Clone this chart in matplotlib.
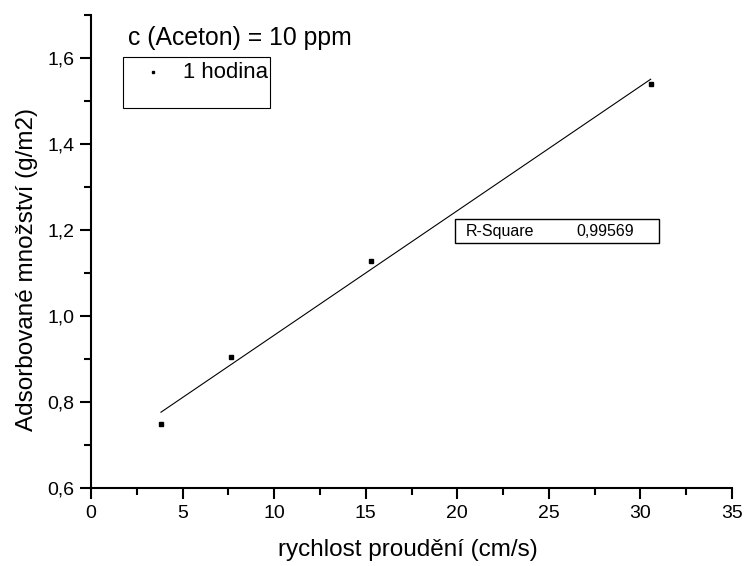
import numpy as np
import matplotlib
matplotlib.use("Agg")
import matplotlib.pyplot as plt
from matplotlib.patches import Rectangle
from matplotlib.ticker import MultipleLocator, FuncFormatter

plt.rcParams['font.family'] = ['Liberation Sans', 'DejaVu Sans']

# data
rychlost = [3.82, 7.64, 15.28, 30.56]
mnozstvi = [0.75, 0.905, 1.127, 1.54]
r_square = "0,99569"
legend_label = "1 hodina"
title_text = "c (Aceton) = 10 ppm"

fig = plt.figure(figsize=(7.44, 5.66), dpi=100)
ax = fig.add_axes([0.1223, 0.1378, 0.8616, 0.8357])

# linear fit over the measured range
k, q = np.polyfit(rychlost, mnozstvi, 1)
xfit = np.array([min(rychlost), max(rychlost)])
ax.plot(xfit, k * xfit + q, color='black', lw=0.8)
ax.plot(rychlost, mnozstvi, ls='none', marker='s', ms=2.2, color='black')

ax.set_xlim(0, 35)
ax.set_ylim(0.6, 1.7)
ax.xaxis.set_major_locator(MultipleLocator(5))
ax.xaxis.set_minor_locator(MultipleLocator(2.5))
ax.yaxis.set_major_locator(MultipleLocator(0.2))
ax.yaxis.set_minor_locator(MultipleLocator(0.1))
ax.yaxis.set_major_formatter(FuncFormatter(lambda v, p: f"{v:.1f}".replace('.', ',')))
ax.xaxis.set_major_formatter(FuncFormatter(lambda v, p: f"{v:.0f}"))

for s in ['top', 'right']:
  ax.spines[s].set_visible(False)
for s in ['left', 'bottom']:
  ax.spines[s].set_linewidth(1.5)
ax.tick_params(which='major', direction='out', length=8, width=1.5, labelsize=14, pad=4)
ax.tick_params(which='minor', direction='out', length=5, width=1.5)

ax.set_xlabel("rychlost proudění (cm/s)", fontsize=17.5, va='center')
ax.set_ylabel("Adsorbované množství (g/m2)", fontsize=17.5, va='center')
ax.xaxis.set_label_coords(0.495, -0.132)
ax.yaxis.set_label_coords(-0.1, 0.461)

# title inside the plot, Origin style
ax.text(0.0577, 0.951, title_text, transform=ax.transAxes, fontsize=17.8,
        va='center', ha='left')

# legend box
ax.add_patch(Rectangle((0.0499, 0.803), 0.2294, 0.108, transform=ax.transAxes,
                       fill=False, lw=0.8, ec='black'))
ax.plot([0.0967], [0.879], transform=ax.transAxes, marker='s', ms=2,
        color='black', ls='none')
ax.text(0.1435, 0.879, legend_label, transform=ax.transAxes, fontsize=15.9,
        va='center', ha='left')

# R-Square box
ax.add_patch(Rectangle((0.568, 0.518), 0.318, 0.051, transform=ax.transAxes,
                       fill=False, lw=1.0, ec='black'))
ax.text(0.585, 0.543, "R-Square", transform=ax.transAxes, fontsize=11.5,
        va='center', ha='left')
ax.text(0.847, 0.543, r_square, transform=ax.transAxes, fontsize=11.5,
        va='center', ha='right')

fig.savefig("out.png", dpi=100)
